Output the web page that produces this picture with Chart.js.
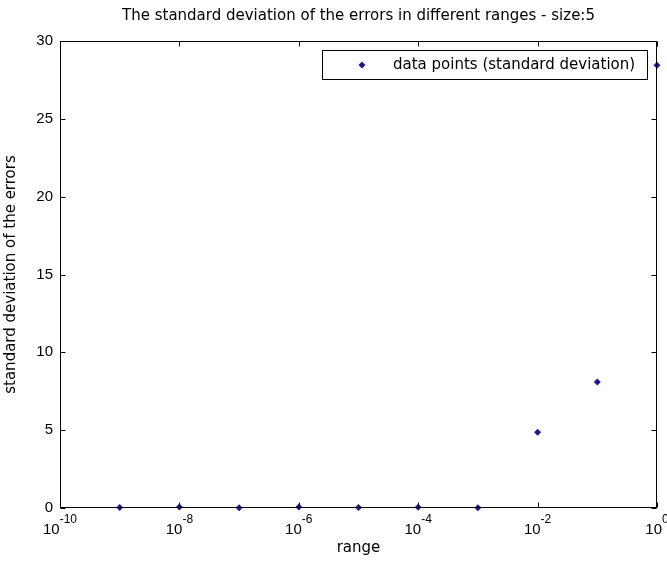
<!DOCTYPE html>
<html>
<head>
<meta charset="utf-8">
<title>standard deviation of the errors</title>
<script src="https://cdn.jsdelivr.net/npm/chart.js@4/dist/chart.umd.min.js"></script>
<style>
  html, body { margin: 0; padding: 0; background: #fff; }
</style>
</head>
<body>
<canvas id="myChart" width="667" height="563"></canvas>
<script>
// data
var ranges = [1e-9, 1e-8, 1e-7, 1e-6, 1e-5, 1e-4, 1e-3, 1e-2, 1e-1, 1];
var stdDevs = [0.03, 0.06, 0.02, 0.07, 0.03, 0.05, 0.02, 4.86, 8.09, 28.45];
var xTicks = [1e-10, 1e-8, 1e-6, 1e-4, 1e-2, 1];
var yTicks = [0, 5, 10, 15, 20, 25, 30];
var seriesLabel = 'data points (standard deviation)';
var chartTitle = 'The standard deviation of the errors in different ranges - size:5';
var xTitle = 'range';
var yTitle = 'standard deviation of the errors';

var textFont = 'DejaVu Sans';
var numFont = 'Liberation Sans';
var dotColor = '#1a1a8e';

function diamond(ctx, x, y, r) {
    ctx.beginPath();
    ctx.moveTo(x, y - r);
    ctx.lineTo(x + r, y);
    ctx.lineTo(x, y + r);
    ctx.lineTo(x - r, y);
    ctx.closePath();
    ctx.fill();
}

// matlab style box, inner ticks and 10^n labels
const axesBox = {
    id: 'axesBox',
    afterDraw: (chart) => {
        const {ctx, chartArea, scales} = chart;
        const a = chartArea;
        const l = Math.round(a.left) + 0.5, r = Math.round(a.right) - 0.5;
        const t = Math.round(a.top) + 0.5, b = Math.round(a.bottom) - 0.5;
        ctx.save();
        ctx.strokeStyle = '#000';
        ctx.lineWidth = 1;
        ctx.strokeRect(l, t, r - l, b - t);

        ctx.beginPath();
        scales.x.ticks.forEach(function(tk) {
            var px = Math.round(scales.x.getPixelForValue(tk.value)) + 0.5;
            ctx.moveTo(px, b); ctx.lineTo(px, b - 5);
            ctx.moveTo(px, t); ctx.lineTo(px, t + 5);
        });
        scales.y.ticks.forEach(function(tk) {
            var py = Math.round(scales.y.getPixelForValue(tk.value)) + 0.5;
            ctx.moveTo(l, py); ctx.lineTo(l + 5, py);
            ctx.moveTo(r, py); ctx.lineTo(r - 5, py);
        });
        ctx.stroke();

        // x tick labels as 10 with a raised exponent
        ctx.fillStyle = '#000';
        ctx.textBaseline = 'alphabetic';
        ctx.textAlign = 'left';
        scales.x.ticks.forEach(function(tk) {
            var px = scales.x.getPixelForValue(tk.value);
            var ex = String(Math.round(Math.log10(tk.value)));
            ctx.font = '15px "' + numFont + '"';
            var wBase = ctx.measureText('10').width;
            ctx.font = '12px "' + numFont + '"';
            var wExp = ctx.measureText(ex).width;
            var x0 = px - (wBase + wExp) / 2;
            ctx.font = '15px "' + numFont + '"';
            ctx.fillText('10', x0, 534);
            ctx.font = '12px "' + numFont + '"';
            ctx.fillText(ex, x0 + wBase, 523);
        });
        ctx.restore();
    },
    afterDatasetsDraw: (chart) => {
        const ctx = chart.ctx;
        ctx.save();
        ctx.fillStyle = '#fff';
        ctx.fillRect(322, 50, 326, 30);
        ctx.strokeStyle = '#000';
        ctx.lineWidth = 1;
        ctx.strokeRect(322.5, 50.5, 325, 29);
        ctx.fillStyle = dotColor;
        diamond(ctx, 362, 65, 3.5);
        ctx.fillStyle = '#000';
        ctx.font = '15px "' + textFont + '"';
        ctx.textBaseline = 'middle';
        ctx.textAlign = 'left';
        ctx.fillText(chart.data.datasets[0].label, 393, 65);
        ctx.restore();
    }
};

const data = {
    labels: ranges,
    datasets: [{
        label: seriesLabel,
        data: ranges.map(function(v, i) { return {x: v, y: stdDevs[i]}; }),
        showLine: false,
        pointStyle: 'rectRot',
        pointRadius: 3.5,
        pointHoverRadius: 3.5,
        pointBackgroundColor: dotColor,
        pointBorderColor: dotColor,
        pointBorderWidth: 0,
        clip: false
    }]
};

const config = {
    type: 'scatter',
    data,
    options: {
        responsive: false,
        animation: false,
        devicePixelRatio: 1,
        layout: { padding: { left: 0, right: 10, top: 0, bottom: 0 } },
        plugins: {
            legend: { display: false },
            tooltip: { enabled: false },
            title: {
                display: true,
                fullSize: false,
                text: chartTitle,
                color: '#000',
                font: { family: textFont, size: 15, weight: 'normal' },
                padding: { top: 7, bottom: 16 }
            }
        },
        scales: {
            x: {
                type: 'logarithmic',
                min: xTicks[0],
                max: xTicks[xTicks.length - 1],
                grid: { display: false, drawTicks: false },
                border: { display: false },
                ticks: { display: false },
                afterBuildTicks: function(scale) {
                    scale.ticks = xTicks.map(function(v) { return {value: v}; });
                },
                afterFit: function(scale) { scale.height = 55; },
                title: {
                    display: true,
                    text: xTitle,
                    color: '#000',
                    font: { family: textFont, size: 15 },
                    padding: { top: 0, bottom: 6 }
                }
            },
            y: {
                min: yTicks[0],
                max: yTicks[yTicks.length - 1],
                grid: { display: false, drawTicks: false },
                border: { display: false },
                ticks: {
                    color: '#000',
                    padding: 7,
                    autoSkip: false,
                    font: { family: numFont, size: 15 }
                },
                afterBuildTicks: function(scale) {
                    scale.ticks = yTicks.map(function(v) { return {value: v}; });
                },
                afterFit: function(scale) { scale.width = 60; },
                title: {
                    display: true,
                    text: yTitle,
                    color: '#000',
                    font: { family: textFont, size: 15 },
                    padding: { top: 2, bottom: 0 }
                }
            }
        }
    },
    plugins: [axesBox]
};

const myChart = new Chart(document.getElementById('myChart'), config);
</script>
</body>
</html>
